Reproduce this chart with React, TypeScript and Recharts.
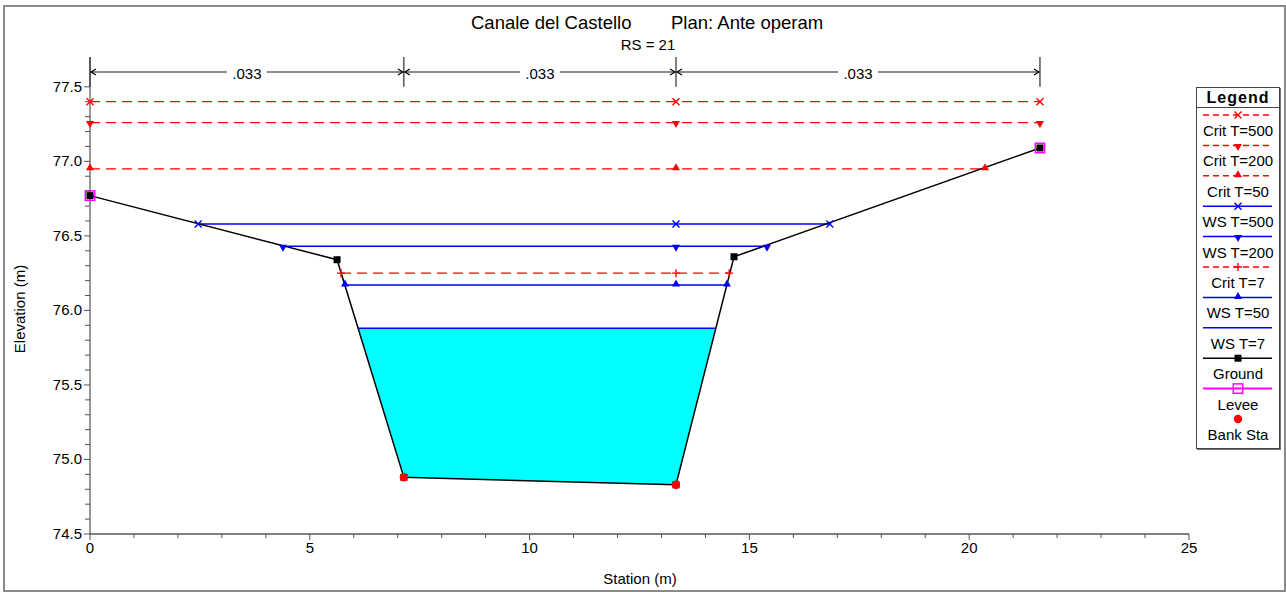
import React from "react"
import { ComposedChart, Line, Area, XAxis, YAxis, ReferenceLine } from "recharts"

const FONT = '"Liberation Sans", Arial, Helvetica, sans-serif'

// ground profile (station m, elevation m)
const groundStation = [0, 5.62, 7.14, 13.33, 14.65, 21.61]
const groundElev = [76.77, 76.34, 74.88, 74.83, 76.36, 77.09]
const leveeStation = [0, 21.61]
const leveeElev = [76.77, 77.09]
const bankStation = [7.14, 13.33]
const bankElev = [74.88, 74.83]

// water surfaces
const wsNames = ["Crit T=500", "Crit T=200", "Crit T=50", "WS T=500", "WS T=200", "Crit T=7", "WS T=50", "WS T=7"]
const wsElev = [77.4, 77.26, 76.95, 76.58, 76.43, 76.25, 76.17, 75.88]
const wsLeft = [0, 0, 0, 2.46, 4.39, 5.71, 5.8, 6.1]
const wsRight = [21.61, 21.61, 20.36, 16.83, 15.4, 14.54, 14.49, 14.22]
const wsMid = 13.33
const wsColor = ["#ff0000", "#ff0000", "#ff0000", "#0000ff", "#0000ff", "#ff0000", "#0000ff", "#0000ff"]
const wsMarker = ["x", "down", "up", "x", "down", "plus", "up", "none"]

// wetted area under WS T=7
const waterStation = [6.1, 7.14, 13.33, 14.22]
const waterBottom = [75.88, 74.88, 74.83, 75.88]

// manning's n
const nStations = [0, 7.14, 13.33, 21.61]
const nValues = [".033", ".033", ".033"]

const xTicks = Array.from({ length: 26 }, (_, i) => i)
const yTicks = Array.from({ length: 31 }, (_, i) => Math.round((74.5 + i * 0.1) * 10) / 10)

const groundData = groundStation.map((x, i) => ({ x, y: groundElev[i] }))
const leveeData = leveeStation.map((x, i) => ({ x, y: leveeElev[i] }))
const bankData = bankStation.map((x, i) => ({ x, y: bankElev[i] }))
const waterData = waterStation.map((x, i) => ({ x, y: [waterBottom[i], wsElev[7]] }))
const wsData = wsNames.map((_, i) =>
  wsMarker[i] === "none"
    ? [{ x: wsLeft[i], y: wsElev[i] }, { x: wsRight[i], y: wsElev[i] }]
    : [{ x: wsLeft[i], y: wsElev[i] }, { x: wsMid, y: wsElev[i] }, { x: wsRight[i], y: wsElev[i] }]
)

function Marker({ kind, cx, cy, color }: { kind: string; cx: number; cy: number; color: string }) {
  switch (kind) {
    case "x":
      return <path d={`M${cx - 3.5},${cy - 3.5}L${cx + 3.5},${cy + 3.5}M${cx - 3.5},${cy + 3.5}L${cx + 3.5},${cy - 3.5}`} stroke={color} strokeWidth={1.4} fill="none" />
    case "plus":
      return <path d={`M${cx - 4},${cy}L${cx + 4},${cy}M${cx},${cy - 4}L${cx},${cy + 4}`} stroke={color} strokeWidth={1.4} fill="none" />
    case "down":
      return <path d={`M${cx - 4},${cy - 1.5}L${cx + 4},${cy - 1.5}L${cx},${cy + 5.5}Z`} fill={color} />
    case "up":
      return <path d={`M${cx - 4},${cy + 1.5}L${cx + 4},${cy + 1.5}L${cx},${cy - 5.5}Z`} fill={color} />
    case "square":
      return <rect x={cx - 3.5} y={cy - 3.5} width={7} height={7} fill="#000" />
    case "openSquare":
      return <rect x={cx - 4.7} y={cy - 4.7} width={9.4} height={9.4} fill="none" stroke="#ff00ff" strokeWidth={1.5} />
    case "circle":
      return <circle cx={cx} cy={cy} r={4.2} fill="#ff0000" />
    default:
      return <g />
  }
}

const XTick = (props: any) => {
  const { x, y, payload } = props
  const major = payload.value % 5 === 0
  return (
    <g>
      <line x1={x} x2={x} y1={y} y2={y + (major ? 6 : 4)} stroke="#555" />
      {major && (
        <text x={x} y={y + 19} textAnchor="middle" fontSize={15} fontFamily={FONT} fill="#000">
          {payload.value}
        </text>
      )}
    </g>
  )
}

const YTick = (props: any) => {
  const { x, y, payload } = props
  const v = payload.value
  const major = Math.abs(v * 2 - Math.round(v * 2)) < 1e-6
  return (
    <g>
      <line x1={x - (major ? 6 : 5)} x2={x} y1={y} y2={y} stroke="#555" />
      {major && (
        <text x={x - 8} y={y + 5} textAnchor="end" fontSize={15} fontFamily={FONT} fill="#000">
          {v.toFixed(1)}
        </text>
      )}
    </g>
  )
}

const Bracket = (props: any) => {
  const { x1, x2, y1, text } = props
  const mid = (x1 + x2) / 2
  const half = 20
  return (
    <g>
      <line x1={x1} y1={y1} x2={mid - half} y2={y1} stroke="#666" strokeWidth={1.5} />
      <line x1={mid + half} y1={y1} x2={x2} y2={y1} stroke="#666" strokeWidth={1.5} />
      <path d={`M${x1 + 6},${y1 - 3}L${x1 + 1},${y1}L${x1 + 6},${y1 + 3}`} fill="none" stroke="#000" strokeWidth={1.2} />
      <path d={`M${x2 - 6},${y1 - 3}L${x2 - 1},${y1}L${x2 - 6},${y1 + 3}`} fill="none" stroke="#000" strokeWidth={1.2} />
      <text x={mid} y={y1 + 7} textAnchor="middle" fontSize={15} fontFamily={FONT} fill="#000">
        {text}
      </text>
    </g>
  )
}

function LegendBox() {
  const rows = [
    ...wsNames.map((name, i) => ({ name, color: wsColor[i], dash: name.startsWith("Crit"), marker: wsMarker[i], line: true })),
    { name: "Ground", color: "#000", dash: false, marker: "square", line: true },
    { name: "Levee", color: "#ff00ff", dash: false, marker: "openSquare", line: true },
    { name: "Bank Sta", color: "#ff0000", dash: false, marker: "circle", line: false },
  ]
  return (
    <div style={{ position: "absolute", left: 1196, top: 87, width: 84, height: 362, border: "1px solid #444", boxShadow: "1px 1px 0 #777", background: "#fff", boxSizing: "border-box" }}>
      <svg width={82} height={360} style={{ display: "block" }}>
        <text x={41} y={15} textAnchor="middle" fontSize={16} fontWeight="bold" letterSpacing={1} fontFamily={FONT}>
          Legend
        </text>
        <line x1={0} x2={82} y1={19.5} y2={19.5} stroke="#444" />
        {rows.map((r, i) => {
          const y = 27 + i * 30.4
          return (
            <g key={r.name}>
              {r.line && <line x1={6} x2={75} y1={y} y2={y} stroke={r.color} strokeWidth={r.color === "#ff00ff" ? 2 : 1.5} strokeDasharray={r.dash ? "6 4" : undefined} />}
              <Marker kind={r.marker} cx={41} cy={y} color={r.color} />
              <text x={41} y={y + 21} textAnchor="middle" fontSize={15} fontFamily={FONT} fill="#000">
                {r.name}
              </text>
            </g>
          )
        })}
      </svg>
    </div>
  )
}

export default function App() {
  return (
    <div style={{ position: "absolute", left: 0, top: 0, width: 1286, height: 592, background: "#fff", fontFamily: FONT }}>
      <div style={{ position: "absolute", left: 3, top: 5, width: 1283, height: 587, border: "2px solid #8a8a8a", boxSizing: "border-box" }} />
      <div style={{ position: "absolute", left: 0, top: 0 }}>
        <ComposedChart width={1286} height={592} margin={{ top: 57, right: 97, bottom: 0, left: 0 }}>
          <XAxis
            dataKey="x"
            type="number"
            domain={[0, 25]}
            ticks={xTicks}
            interval={0}
            tickSize={0}
            tickMargin={0}
            tick={<XTick />}
            height={58}
            axisLine={{ stroke: "#808080", strokeWidth: 2 }}
          />
          <YAxis
            type="number"
            domain={[74.5, 77.7]}
            ticks={yTicks}
            interval={0}
            tickSize={0}
            tickMargin={0}
            tick={<YTick />}
            width={90}
            axisLine={{ stroke: "#333" }}
          />
          <Area data={waterData} dataKey="y" type="linear" fill="#00ffff" fillOpacity={1} stroke="none" isAnimationActive={false} activeDot={false} />
          {nStations.map((s) => (
            <ReferenceLine key={`nt-${s}`} segment={[{ x: s, y: 77.7 }, { x: s, y: 77.5 }]} stroke="#000" strokeWidth={1} />
          ))}
          {nValues.map((v, i) => (
            <ReferenceLine
              key={`n-${i}`}
              segment={[{ x: nStations[i], y: 77.6 }, { x: nStations[i + 1], y: 77.6 }]}
              shape={(p: any) => <Bracket {...p} text={v} />}
            />
          ))}
          {wsNames.map((name, i) => (
            <Line
              key={name}
              data={wsData[i]}
              dataKey="y"
              type="linear"
              stroke={wsColor[i]}
              strokeWidth={name.startsWith("Crit") ? 1.2 : 1.5}
              strokeDasharray={name.startsWith("Crit") ? "10 6" : undefined}
              dot={wsMarker[i] === "none" ? false : (p: any) => <Marker key={`${name}-${p.index}`} kind={wsMarker[i]} cx={p.cx} cy={p.cy} color={wsColor[i]} />}
              activeDot={false}
              isAnimationActive={false}
            />
          ))}
          <Line data={leveeData} dataKey="y" stroke="none" dot={(p: any) => <Marker key={`lv-${p.index}`} kind="openSquare" cx={p.cx} cy={p.cy} color="#ff00ff" />} activeDot={false} isAnimationActive={false} />
          <Line data={groundData} dataKey="y" type="linear" stroke="#000" strokeWidth={1.5} dot={(p: any) => <Marker key={`gr-${p.index}`} kind="square" cx={p.cx} cy={p.cy} color="#000" />} activeDot={false} isAnimationActive={false} />
          <Line data={bankData} dataKey="y" stroke="none" dot={(p: any) => <Marker key={`bk-${p.index}`} kind="circle" cx={p.cx} cy={p.cy} color="#ff0000" />} activeDot={false} isAnimationActive={false} />
        </ComposedChart>
      </div>
      <svg width={1286} height={592} style={{ position: "absolute", left: 0, top: 0, pointerEvents: "none" }}>
        <text x={471} y={29} fontSize={18.5} fontFamily={FONT} fill="#000">
          Canale del Castello
        </text>
        <text x={671} y={29} fontSize={18.5} fontFamily={FONT} fill="#000">
          Plan: Ante operam
        </text>
        <text x={648} y={50} textAnchor="middle" fontSize={15} fontFamily={FONT} fill="#000">
          RS = 21
        </text>
        <text x={640} y={584} textAnchor="middle" fontSize={15} fontFamily={FONT} fill="#000">
          Station (m)
        </text>
        <text x={25} y={309} textAnchor="middle" fontSize={15} fontFamily={FONT} fill="#000" transform="rotate(-90 25 309)">
          Elevation (m)
        </text>
      </svg>
      <LegendBox />
    </div>
  )
}
